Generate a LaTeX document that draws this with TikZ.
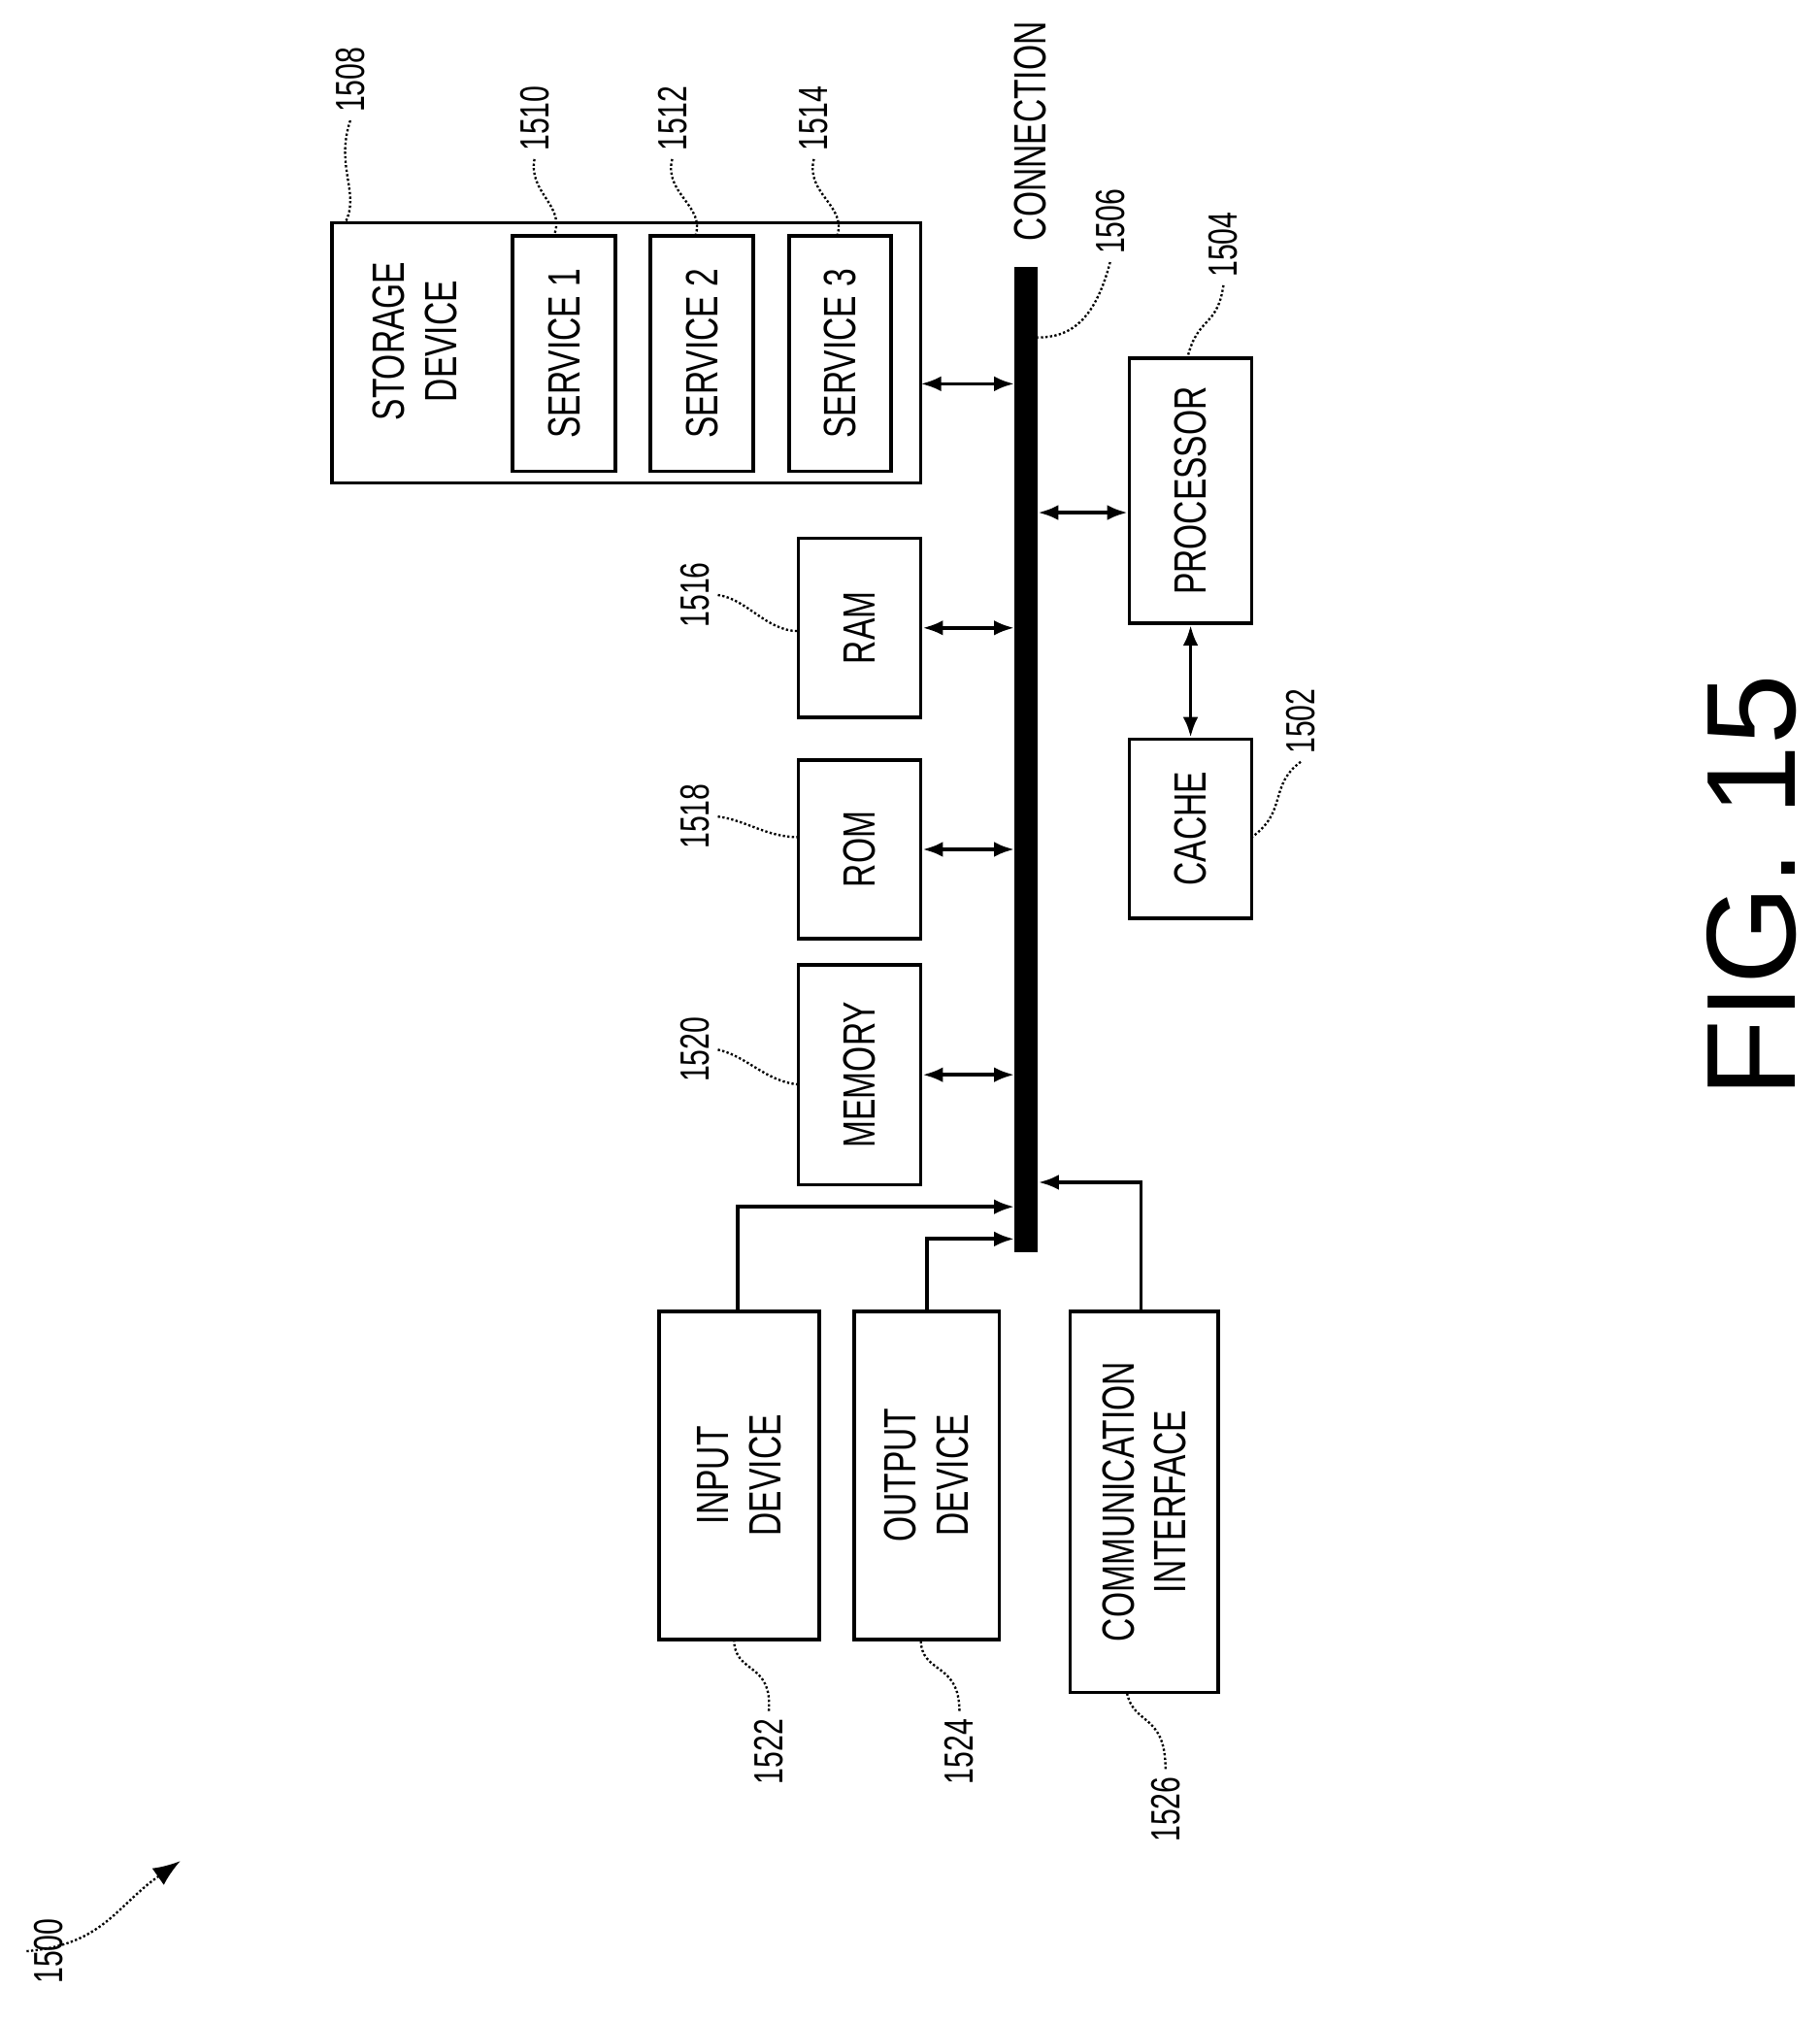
\documentclass[tikz,border=0pt]{standalone}
\usepackage{fontspec}
\setmainfont{Liberation Sans}
\newfontfamily\narrowfont{Liberation Sans}[FakeStretch=0.72]
\usetikzlibrary{fit,arrows.meta}

\begin{document}
\begin{tikzpicture}[x=0.02cm,y=-0.02cm,
  box/.style={draw,line width=1.6pt,inner sep=0pt},
  lbl/.style={rotate=90,font=\narrowfont\fontsize{20}{23}\selectfont,align=center},
  num/.style={rotate=90,font=\narrowfont\fontsize{18}{20}\selectfont},
  lead/.style={line width=1pt,densely dotted},
  link/.style={line width=1.6pt,{Latex[length=9pt]}-{Latex[length=9pt]}},
  one/.style={line width=1.6pt,-{Latex[length=9pt]}}]
\useasboundingbox (0,0) rectangle (1413,1570);
% boxes
\node[box,fit={(258,173) (715,375)}] (storage) {};
\node[lbl] at (322,265) {STORAGE\\DEVICE};
\node[box,fit={(398,183) (478,366)}] (svc1) {};
\node[lbl] at (svc1) {SERVICE 1};
\node[box,fit={(505,183) (585,366)}] (svc2) {};
\node[lbl] at (svc2) {SERVICE 2};
\node[box,fit={(613,183) (692,366)}] (svc3) {};
\node[lbl] at (svc3) {SERVICE 3};
\node[fill,inner sep=0pt,fit={(788,207) (806,972)}] (bus) {};
\node[box,fit={(877,278) (972,484)}] (proc) {};
\node[lbl] at (proc) {PROCESSOR};
\node[box,fit={(877,574) (972,713)}] (cache) {};
\node[lbl] at (cache) {CACHE};
\node[box,fit={(620,418) (715,557)}] (ram) {};
\node[lbl] at (ram) {RAM};
\node[box,fit={(620,590) (715,729)}] (rom) {};
\node[lbl] at (rom) {ROM};
\node[box,fit={(620,749) (715,920)}] (mem) {};
\node[lbl] at (mem) {MEMORY};
\node[box,fit={(512,1018) (636,1273)}] (input) {};
\node[lbl] at (input) {INPUT\\DEVICE};
\node[box,fit={(663,1018) (776,1273)}] (output) {};
\node[lbl] at (output) {OUTPUT\\DEVICE};
\node[box,fit={(831,1018) (946,1314)}] (comm) {};
\node[lbl] at (comm) {COMMUNICATION\\INTERFACE};
\node[lbl] (conn) at (800,102) {CONNECTION};
\node[rotate=90,font=\fontsize{56}{64}\selectfont] (fig) at (1360,688) {FIG. 15};
% connectors
\coordinate (s) at (715,298);
\coordinate (p) at (806,398);
\coordinate (i) at (573,937);
\coordinate (o) at (720,962);
\coordinate (c) at (886,918);
\draw[link] (s) -- (s-|bus.west);
\draw[link] (p) -- (p-|proc.west);
\draw[link] (ram.east) -- (ram.east-|bus.west);
\draw[link] (rom.east) -- (rom.east-|bus.west);
\draw[link] (mem.east) -- (mem.east-|bus.west);
\draw[link] (proc.south) -- (cache.north);
\draw[one] (input.north-|i) -- (i) -- (i-|bus.west);
\draw[one] (output.north-|o) -- (o) -- (o-|bus.west);
\draw[one] (comm.north-|c) -- (c) -- (c-|bus.east);
% reference numbers
\node[num] (n1508) at (272,62) {1508};
\node[num] (n1510) at (415,92) {1510};
\node[num] (n1512) at (522,92) {1512};
\node[num] (n1514) at (632,92) {1514};
\node[num] (n1506) at (862,172) {1506};
\node[num] (n1504) at (950,190) {1504};
\node[num] (n1516) at (540,462) {1516};
\node[num] (n1518) at (540,634) {1518};
\node[num] (n1520) at (540,815) {1520};
\node[num] (n1502) at (1010,560) {1502};
\node[num] (n1522) at (597,1360) {1522};
\node[num] (n1524) at (745,1360) {1524};
\node[num] (n1526) at (905,1405) {1526};
\node[num] (n1500) at (38,1515) {1500};
\draw[lead] (n1508.west) .. controls (260,130) and (280,150) .. (268,173);
\draw[lead] (n1510.west) .. controls (410,150) and (440,160) .. (430,183);
\draw[lead] (n1512.west) .. controls (515,150) and (548,160) .. (540,183);
\draw[lead] (n1514.west) .. controls (625,150) and (658,160) .. (650,183);
\draw[lead] (n1506.west) .. controls (850,250) and (830,262) .. (806,262);
\draw[lead] (n1504.west) .. controls (945,255) and (930,245) .. (922,278);
\draw[lead] (n1516.south) .. controls (580,465) and (595,490) .. (620,490);
\draw[lead] (n1518.south) .. controls (580,637) and (595,650) .. (620,650);
\draw[lead] (n1520.south) .. controls (580,820) and (595,840) .. (620,842);
\draw[lead] (n1502.west) .. controls (985,610) and (1000,630) .. (972,650);
\draw[lead] (n1522.east) .. controls (600,1290) and (570,1300) .. (570,1273);
\draw[lead] (n1524.east) .. controls (745,1290) and (715,1300) .. (715,1273);
\draw[lead] (n1526.east) .. controls (905,1330) and (880,1340) .. (875,1314);
\draw[lead,-{Latex[length=12pt]}] (n1500.north) .. controls (80,1510) and (90,1480) .. (140,1445);
\end{tikzpicture}
\end{document}
